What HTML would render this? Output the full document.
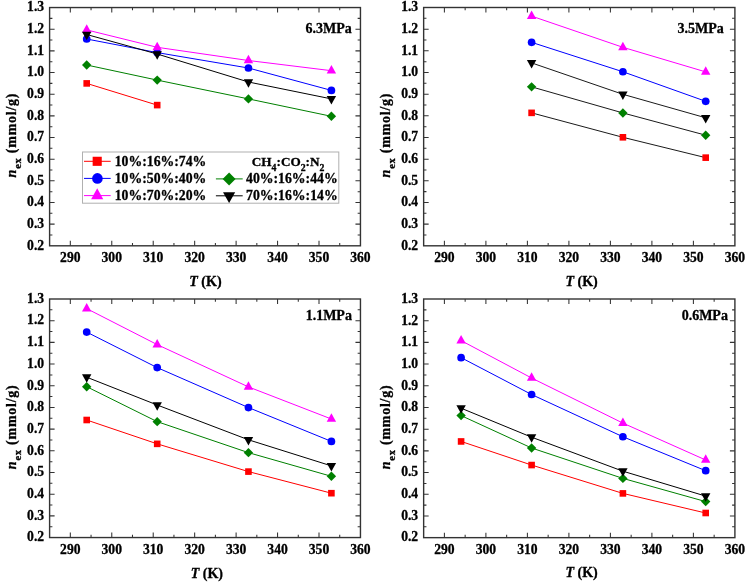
<!DOCTYPE html>
<html><head><meta charset="utf-8"><style>
html,body{margin:0;padding:0;background:#fff;}
body{width:747px;height:583px;overflow:hidden;font-family:"Liberation Serif", serif;}
svg{display:block;filter:blur(0.45px);}
text{stroke:#000;stroke-width:0.3px;}
</style></head><body>
<svg width="747" height="583" viewBox="0 0 747 583" font-family='"Liberation Serif", serif'>
<rect width="747" height="583" fill="#fff"/>
<path d="M70.32 245.80V240.80M70.32 7.55V12.55M91.05 245.80V243.00M91.05 7.55V10.35M111.77 245.80V240.80M111.77 7.55V12.55M132.49 245.80V243.00M132.49 7.55V10.35M153.22 245.80V240.80M153.22 7.55V12.55M173.94 245.80V243.00M173.94 7.55V10.35M194.66 245.80V240.80M194.66 7.55V12.55M215.39 245.80V243.00M215.39 7.55V10.35M236.11 245.80V240.80M236.11 7.55V12.55M256.83 245.80V243.00M256.83 7.55V10.35M277.56 245.80V240.80M277.56 7.55V12.55M298.28 245.80V243.00M298.28 7.55V10.35M319.00 245.80V240.80M319.00 7.55V12.55M339.73 245.80V243.00M339.73 7.55V10.35M49.60 234.97H52.40M360.45 234.97H357.65M49.60 224.14H54.60M360.45 224.14H355.45M49.60 213.31H52.40M360.45 213.31H357.65M49.60 202.48H54.60M360.45 202.48H355.45M49.60 191.65H52.40M360.45 191.65H357.65M49.60 180.82H54.60M360.45 180.82H355.45M49.60 169.99H52.40M360.45 169.99H357.65M49.60 159.16H54.60M360.45 159.16H355.45M49.60 148.33H52.40M360.45 148.33H357.65M49.60 137.50H54.60M360.45 137.50H355.45M49.60 126.67H52.40M360.45 126.67H357.65M49.60 115.85H54.60M360.45 115.85H355.45M49.60 105.02H52.40M360.45 105.02H357.65M49.60 94.19H54.60M360.45 94.19H355.45M49.60 83.36H52.40M360.45 83.36H357.65M49.60 72.53H54.60M360.45 72.53H355.45M49.60 61.70H52.40M360.45 61.70H357.65M49.60 50.87H54.60M360.45 50.87H355.45M49.60 40.04H52.40M360.45 40.04H357.65M49.60 29.21H54.60M360.45 29.21H355.45M49.60 18.38H52.40M360.45 18.38H357.65" stroke="#333" stroke-width="1.05" fill="none"/>
<polyline points="86.70,83.40 157.20,105.10" fill="none" stroke="#ff0000" stroke-width="1"/>
<rect x="83.40" y="80.10" width="6.60" height="6.60" fill="#ff0000"/>
<rect x="153.90" y="101.80" width="6.60" height="6.60" fill="#ff0000"/>
<polyline points="86.70,39.00 157.20,52.60 248.45,68.00 331.40,90.40" fill="none" stroke="#0000ff" stroke-width="1"/>
<circle cx="86.70" cy="39.00" r="3.85" fill="#0000ff"/>
<circle cx="157.20" cy="52.60" r="3.85" fill="#0000ff"/>
<circle cx="248.45" cy="68.00" r="3.85" fill="#0000ff"/>
<circle cx="331.40" cy="90.40" r="3.85" fill="#0000ff"/>
<polyline points="86.70,29.90 157.20,47.30 248.45,60.50 331.40,70.70" fill="none" stroke="#ff00ff" stroke-width="1"/>
<polygon points="86.70,24.23 91.40,32.73 82.00,32.73" fill="#ff00ff"/>
<polygon points="157.20,41.63 161.90,50.13 152.50,50.13" fill="#ff00ff"/>
<polygon points="248.45,54.83 253.15,63.33 243.75,63.33" fill="#ff00ff"/>
<polygon points="331.40,65.03 336.10,73.53 326.70,73.53" fill="#ff00ff"/>
<polyline points="86.70,65.00 157.20,80.10 248.45,98.90 331.40,116.30" fill="none" stroke="#008000" stroke-width="1"/>
<polygon points="86.70,60.30 91.40,65.00 86.70,69.70 82.00,65.00" fill="#008000"/>
<polygon points="157.20,75.40 161.90,80.10 157.20,84.80 152.50,80.10" fill="#008000"/>
<polygon points="248.45,94.20 253.15,98.90 248.45,103.60 243.75,98.90" fill="#008000"/>
<polygon points="331.40,111.60 336.10,116.30 331.40,121.00 326.70,116.30" fill="#008000"/>
<polyline points="86.70,34.50 157.20,54.00 248.45,82.00 331.40,98.90" fill="none" stroke="#000000" stroke-width="1"/>
<polygon points="86.70,40.17 91.40,31.67 82.00,31.67" fill="#000000"/>
<polygon points="157.20,59.67 161.90,51.17 152.50,51.17" fill="#000000"/>
<polygon points="248.45,87.67 253.15,79.17 243.75,79.17" fill="#000000"/>
<polygon points="331.40,104.57 336.10,96.07 326.70,96.07" fill="#000000"/>
<rect x="49.60" y="7.55" width="310.85" height="238.25" fill="none" stroke="#333" stroke-width="1.4"/>
<g font-size="13.6" font-weight="bold" fill="#000"><text x="70.32" y="262.10" text-anchor="middle">290</text><text x="111.77" y="262.10" text-anchor="middle">300</text><text x="153.22" y="262.10" text-anchor="middle">310</text><text x="194.66" y="262.10" text-anchor="middle">320</text><text x="236.11" y="262.10" text-anchor="middle">330</text><text x="277.56" y="262.10" text-anchor="middle">340</text><text x="319.00" y="262.10" text-anchor="middle">350</text><text x="360.45" y="262.10" text-anchor="middle">360</text><text x="44.10" y="249.60" text-anchor="end">0.2</text><text x="44.10" y="227.94" text-anchor="end">0.3</text><text x="44.10" y="206.28" text-anchor="end">0.4</text><text x="44.10" y="184.62" text-anchor="end">0.5</text><text x="44.10" y="162.96" text-anchor="end">0.6</text><text x="44.10" y="141.30" text-anchor="end">0.7</text><text x="44.10" y="119.65" text-anchor="end">0.8</text><text x="44.10" y="97.99" text-anchor="end">0.9</text><text x="44.10" y="76.33" text-anchor="end">1.0</text><text x="44.10" y="54.67" text-anchor="end">1.1</text><text x="44.10" y="33.01" text-anchor="end">1.2</text><text x="44.10" y="11.35" text-anchor="end">1.3</text></g>
<text x="205.45" y="285.80" text-anchor="middle" font-size="14" font-weight="bold"><tspan font-style="italic">T</tspan> (K)</text>
<text transform="translate(15.70,177.40) rotate(-90)" font-size="14" font-weight="bold" letter-spacing="0.75"><tspan font-style="italic">n</tspan><tspan font-size="10.5" dy="5.3">ex</tspan><tspan dy="-5.3"> (mmol/g)</tspan></text>
<text x="351.80" y="32.50" text-anchor="end" font-size="14" font-weight="bold">6.3MPa</text>
<path d="M444.40 245.80V240.80M444.40 7.50V12.50M465.15 245.80V243.00M465.15 7.50V10.30M485.90 245.80V240.80M485.90 7.50V12.50M506.65 245.80V243.00M506.65 7.50V10.30M527.40 245.80V240.80M527.40 7.50V12.50M548.15 245.80V243.00M548.15 7.50V10.30M568.90 245.80V240.80M568.90 7.50V12.50M589.65 245.80V243.00M589.65 7.50V10.30M610.40 245.80V240.80M610.40 7.50V12.50M631.15 245.80V243.00M631.15 7.50V10.30M651.90 245.80V240.80M651.90 7.50V12.50M672.65 245.80V243.00M672.65 7.50V10.30M693.40 245.80V240.80M693.40 7.50V12.50M714.15 245.80V243.00M714.15 7.50V10.30M423.65 234.97H426.45M734.90 234.97H732.10M423.65 224.14H428.65M734.90 224.14H729.90M423.65 213.30H426.45M734.90 213.30H732.10M423.65 202.47H428.65M734.90 202.47H729.90M423.65 191.64H426.45M734.90 191.64H732.10M423.65 180.81H428.65M734.90 180.81H729.90M423.65 169.98H426.45M734.90 169.98H732.10M423.65 159.15H428.65M734.90 159.15H729.90M423.65 148.31H426.45M734.90 148.31H732.10M423.65 137.48H428.65M734.90 137.48H729.90M423.65 126.65H426.45M734.90 126.65H732.10M423.65 115.82H428.65M734.90 115.82H729.90M423.65 104.99H426.45M734.90 104.99H732.10M423.65 94.15H428.65M734.90 94.15H729.90M423.65 83.32H426.45M734.90 83.32H732.10M423.65 72.49H428.65M734.90 72.49H729.90M423.65 61.66H426.45M734.90 61.66H732.10M423.65 50.83H428.65M734.90 50.83H729.90M423.65 40.00H426.45M734.90 40.00H732.10M423.65 29.16H428.65M734.90 29.16H729.90M423.65 18.33H426.45M734.90 18.33H732.10" stroke="#333" stroke-width="1.05" fill="none"/>
<polyline points="531.60,112.85 622.90,137.30 705.70,157.65" fill="none" stroke="#1a1a1a" stroke-width="1"/>
<rect x="528.30" y="109.55" width="6.60" height="6.60" fill="#ff0000"/>
<rect x="619.60" y="134.00" width="6.60" height="6.60" fill="#ff0000"/>
<rect x="702.40" y="154.35" width="6.60" height="6.60" fill="#ff0000"/>
<polyline points="531.60,42.35 622.90,71.75 705.70,101.30" fill="none" stroke="#0000ff" stroke-width="1"/>
<circle cx="531.60" cy="42.35" r="3.85" fill="#0000ff"/>
<circle cx="622.90" cy="71.75" r="3.85" fill="#0000ff"/>
<circle cx="705.70" cy="101.30" r="3.85" fill="#0000ff"/>
<polyline points="531.60,16.10 622.90,47.30 705.70,71.90" fill="none" stroke="#ff00ff" stroke-width="1"/>
<polygon points="531.60,10.43 536.30,18.93 526.90,18.93" fill="#ff00ff"/>
<polygon points="622.90,41.63 627.60,50.13 618.20,50.13" fill="#ff00ff"/>
<polygon points="705.70,66.23 710.40,74.73 701.00,74.73" fill="#ff00ff"/>
<polyline points="531.60,86.85 622.90,112.95 705.70,135.20" fill="none" stroke="#1a1a1a" stroke-width="1"/>
<polygon points="531.60,82.15 536.30,86.85 531.60,91.55 526.90,86.85" fill="#008000"/>
<polygon points="622.90,108.25 627.60,112.95 622.90,117.65 618.20,112.95" fill="#008000"/>
<polygon points="705.70,130.50 710.40,135.20 705.70,139.90 701.00,135.20" fill="#008000"/>
<polyline points="531.60,62.90 622.90,94.30 705.70,117.80" fill="none" stroke="#1a1a1a" stroke-width="1"/>
<polygon points="531.60,68.57 536.30,60.07 526.90,60.07" fill="#000000"/>
<polygon points="622.90,99.97 627.60,91.47 618.20,91.47" fill="#000000"/>
<polygon points="705.70,123.47 710.40,114.97 701.00,114.97" fill="#000000"/>
<rect x="423.65" y="7.50" width="311.25" height="238.30" fill="none" stroke="#333" stroke-width="1.4"/>
<g font-size="13.6" font-weight="bold" fill="#000"><text x="444.40" y="262.10" text-anchor="middle">290</text><text x="485.90" y="262.10" text-anchor="middle">300</text><text x="527.40" y="262.10" text-anchor="middle">310</text><text x="568.90" y="262.10" text-anchor="middle">320</text><text x="610.40" y="262.10" text-anchor="middle">330</text><text x="651.90" y="262.10" text-anchor="middle">340</text><text x="693.40" y="262.10" text-anchor="middle">350</text><text x="734.90" y="262.10" text-anchor="middle">360</text><text x="418.15" y="249.60" text-anchor="end">0.2</text><text x="418.15" y="227.94" text-anchor="end">0.3</text><text x="418.15" y="206.27" text-anchor="end">0.4</text><text x="418.15" y="184.61" text-anchor="end">0.5</text><text x="418.15" y="162.95" text-anchor="end">0.6</text><text x="418.15" y="141.28" text-anchor="end">0.7</text><text x="418.15" y="119.62" text-anchor="end">0.8</text><text x="418.15" y="97.95" text-anchor="end">0.9</text><text x="418.15" y="76.29" text-anchor="end">1.0</text><text x="418.15" y="54.63" text-anchor="end">1.1</text><text x="418.15" y="32.96" text-anchor="end">1.2</text><text x="418.15" y="11.30" text-anchor="end">1.3</text></g>
<text x="581.55" y="285.70" text-anchor="middle" font-size="14" font-weight="bold"><tspan font-style="italic">T</tspan> (K)</text>
<text transform="translate(389.75,177.40) rotate(-90)" font-size="14" font-weight="bold" letter-spacing="0.75"><tspan font-style="italic">n</tspan><tspan font-size="10.5" dy="5.3">ex</tspan><tspan dy="-5.3"> (mmol/g)</tspan></text>
<text x="723.70" y="33.40" text-anchor="end" font-size="14" font-weight="bold">3.5MPa</text>
<path d="M70.32 537.55V532.55M70.32 299.00V304.00M91.05 537.55V534.75M91.05 299.00V301.80M111.77 537.55V532.55M111.77 299.00V304.00M132.49 537.55V534.75M132.49 299.00V301.80M153.22 537.55V532.55M153.22 299.00V304.00M173.94 537.55V534.75M173.94 299.00V301.80M194.66 537.55V532.55M194.66 299.00V304.00M215.39 537.55V534.75M215.39 299.00V301.80M236.11 537.55V532.55M236.11 299.00V304.00M256.83 537.55V534.75M256.83 299.00V301.80M277.56 537.55V532.55M277.56 299.00V304.00M298.28 537.55V534.75M298.28 299.00V301.80M319.00 537.55V532.55M319.00 299.00V304.00M339.73 537.55V534.75M339.73 299.00V301.80M49.60 526.71H52.40M360.45 526.71H357.65M49.60 515.86H54.60M360.45 515.86H355.45M49.60 505.02H52.40M360.45 505.02H357.65M49.60 494.18H54.60M360.45 494.18H355.45M49.60 483.33H52.40M360.45 483.33H357.65M49.60 472.49H54.60M360.45 472.49H355.45M49.60 461.65H52.40M360.45 461.65H357.65M49.60 450.80H54.60M360.45 450.80H355.45M49.60 439.96H52.40M360.45 439.96H357.65M49.60 429.12H54.60M360.45 429.12H355.45M49.60 418.27H52.40M360.45 418.27H357.65M49.60 407.43H54.60M360.45 407.43H355.45M49.60 396.59H52.40M360.45 396.59H357.65M49.60 385.75H54.60M360.45 385.75H355.45M49.60 374.90H52.40M360.45 374.90H357.65M49.60 364.06H54.60M360.45 364.06H355.45M49.60 353.22H52.40M360.45 353.22H357.65M49.60 342.37H54.60M360.45 342.37H355.45M49.60 331.53H52.40M360.45 331.53H357.65M49.60 320.69H54.60M360.45 320.69H355.45M49.60 309.84H52.40M360.45 309.84H357.65" stroke="#333" stroke-width="1.05" fill="none"/>
<polyline points="86.70,420.00 157.20,443.85 248.45,471.60 331.40,493.20" fill="none" stroke="#ff0000" stroke-width="1"/>
<rect x="83.40" y="416.70" width="6.60" height="6.60" fill="#ff0000"/>
<rect x="153.90" y="440.55" width="6.60" height="6.60" fill="#ff0000"/>
<rect x="245.15" y="468.30" width="6.60" height="6.60" fill="#ff0000"/>
<rect x="328.10" y="489.90" width="6.60" height="6.60" fill="#ff0000"/>
<polyline points="86.70,332.10 157.20,367.60 248.45,407.55 331.40,441.40" fill="none" stroke="#0000ff" stroke-width="1"/>
<circle cx="86.70" cy="332.10" r="3.85" fill="#0000ff"/>
<circle cx="157.20" cy="367.60" r="3.85" fill="#0000ff"/>
<circle cx="248.45" cy="407.55" r="3.85" fill="#0000ff"/>
<circle cx="331.40" cy="441.40" r="3.85" fill="#0000ff"/>
<polyline points="86.70,308.60 157.20,344.60 248.45,386.90 331.40,419.00" fill="none" stroke="#ff00ff" stroke-width="1"/>
<polygon points="86.70,302.93 91.40,311.43 82.00,311.43" fill="#ff00ff"/>
<polygon points="157.20,338.93 161.90,347.43 152.50,347.43" fill="#ff00ff"/>
<polygon points="248.45,381.23 253.15,389.73 243.75,389.73" fill="#ff00ff"/>
<polygon points="331.40,413.33 336.10,421.83 326.70,421.83" fill="#ff00ff"/>
<polyline points="86.70,386.70 157.20,421.65 248.45,452.65 331.40,476.30" fill="none" stroke="#008000" stroke-width="1"/>
<polygon points="86.70,382.00 91.40,386.70 86.70,391.40 82.00,386.70" fill="#008000"/>
<polygon points="157.20,416.95 161.90,421.65 157.20,426.35 152.50,421.65" fill="#008000"/>
<polygon points="248.45,447.95 253.15,452.65 248.45,457.35 243.75,452.65" fill="#008000"/>
<polygon points="331.40,471.60 336.10,476.30 331.40,481.00 326.70,476.30" fill="#008000"/>
<polyline points="86.70,377.20 157.20,405.00 248.45,439.80 331.40,465.90" fill="none" stroke="#000000" stroke-width="1"/>
<polygon points="86.70,382.87 91.40,374.37 82.00,374.37" fill="#000000"/>
<polygon points="157.20,410.67 161.90,402.17 152.50,402.17" fill="#000000"/>
<polygon points="248.45,445.47 253.15,436.97 243.75,436.97" fill="#000000"/>
<polygon points="331.40,471.57 336.10,463.07 326.70,463.07" fill="#000000"/>
<rect x="49.60" y="299.00" width="310.85" height="238.55" fill="none" stroke="#333" stroke-width="1.4"/>
<g font-size="13.6" font-weight="bold" fill="#000"><text x="70.32" y="553.85" text-anchor="middle">290</text><text x="111.77" y="553.85" text-anchor="middle">300</text><text x="153.22" y="553.85" text-anchor="middle">310</text><text x="194.66" y="553.85" text-anchor="middle">320</text><text x="236.11" y="553.85" text-anchor="middle">330</text><text x="277.56" y="553.85" text-anchor="middle">340</text><text x="319.00" y="553.85" text-anchor="middle">350</text><text x="360.45" y="553.85" text-anchor="middle">360</text><text x="44.10" y="541.35" text-anchor="end">0.2</text><text x="44.10" y="519.66" text-anchor="end">0.3</text><text x="44.10" y="497.98" text-anchor="end">0.4</text><text x="44.10" y="476.29" text-anchor="end">0.5</text><text x="44.10" y="454.60" text-anchor="end">0.6</text><text x="44.10" y="432.92" text-anchor="end">0.7</text><text x="44.10" y="411.23" text-anchor="end">0.8</text><text x="44.10" y="389.55" text-anchor="end">0.9</text><text x="44.10" y="367.86" text-anchor="end">1.0</text><text x="44.10" y="346.17" text-anchor="end">1.1</text><text x="44.10" y="324.49" text-anchor="end">1.2</text><text x="44.10" y="302.80" text-anchor="end">1.3</text></g>
<text x="206.90" y="577.70" text-anchor="middle" font-size="14" font-weight="bold"><tspan font-style="italic">T</tspan> (K)</text>
<text transform="translate(15.70,469.15) rotate(-90)" font-size="14" font-weight="bold" letter-spacing="0.75"><tspan font-style="italic">n</tspan><tspan font-size="10.5" dy="5.3">ex</tspan><tspan dy="-5.3"> (mmol/g)</tspan></text>
<text x="351.90" y="320.30" text-anchor="end" font-size="14" font-weight="bold">1.1MPa</text>
<path d="M444.40 537.65V532.65M444.40 299.00V304.00M465.15 537.65V534.85M465.15 299.00V301.80M485.90 537.65V532.65M485.90 299.00V304.00M506.65 537.65V534.85M506.65 299.00V301.80M527.40 537.65V532.65M527.40 299.00V304.00M548.15 537.65V534.85M548.15 299.00V301.80M568.90 537.65V532.65M568.90 299.00V304.00M589.65 537.65V534.85M589.65 299.00V301.80M610.40 537.65V532.65M610.40 299.00V304.00M631.15 537.65V534.85M631.15 299.00V301.80M651.90 537.65V532.65M651.90 299.00V304.00M672.65 537.65V534.85M672.65 299.00V301.80M693.40 537.65V532.65M693.40 299.00V304.00M714.15 537.65V534.85M714.15 299.00V301.80M423.65 526.80H426.45M734.90 526.80H732.10M423.65 515.95H428.65M734.90 515.95H729.90M423.65 505.11H426.45M734.90 505.11H732.10M423.65 494.26H428.65M734.90 494.26H729.90M423.65 483.41H426.45M734.90 483.41H732.10M423.65 472.56H428.65M734.90 472.56H729.90M423.65 461.72H426.45M734.90 461.72H732.10M423.65 450.87H428.65M734.90 450.87H729.90M423.65 440.02H426.45M734.90 440.02H732.10M423.65 429.17H428.65M734.90 429.17H729.90M423.65 418.32H426.45M734.90 418.32H732.10M423.65 407.48H428.65M734.90 407.48H729.90M423.65 396.63H426.45M734.90 396.63H732.10M423.65 385.78H428.65M734.90 385.78H729.90M423.65 374.93H426.45M734.90 374.93H732.10M423.65 364.09H428.65M734.90 364.09H729.90M423.65 353.24H426.45M734.90 353.24H732.10M423.65 342.39H428.65M734.90 342.39H729.90M423.65 331.54H426.45M734.90 331.54H732.10M423.65 320.70H428.65M734.90 320.70H729.90M423.65 309.85H426.45M734.90 309.85H732.10" stroke="#333" stroke-width="1.05" fill="none"/>
<polyline points="461.10,441.45 531.60,465.05 622.90,493.40 705.70,513.00" fill="none" stroke="#ff0000" stroke-width="1"/>
<rect x="457.80" y="438.15" width="6.60" height="6.60" fill="#ff0000"/>
<rect x="528.30" y="461.75" width="6.60" height="6.60" fill="#ff0000"/>
<rect x="619.60" y="490.10" width="6.60" height="6.60" fill="#ff0000"/>
<rect x="702.40" y="509.70" width="6.60" height="6.60" fill="#ff0000"/>
<polyline points="461.10,357.65 531.60,394.50 622.90,436.75 705.70,470.70" fill="none" stroke="#0000ff" stroke-width="1"/>
<circle cx="461.10" cy="357.65" r="3.85" fill="#0000ff"/>
<circle cx="531.60" cy="394.50" r="3.85" fill="#0000ff"/>
<circle cx="622.90" cy="436.75" r="3.85" fill="#0000ff"/>
<circle cx="705.70" cy="470.70" r="3.85" fill="#0000ff"/>
<polyline points="461.10,340.60 531.60,378.00 622.90,423.10 705.70,460.00" fill="none" stroke="#ff00ff" stroke-width="1"/>
<polygon points="461.10,334.93 465.80,343.43 456.40,343.43" fill="#ff00ff"/>
<polygon points="531.60,372.33 536.30,380.83 526.90,380.83" fill="#ff00ff"/>
<polygon points="622.90,417.43 627.60,425.93 618.20,425.93" fill="#ff00ff"/>
<polygon points="705.70,454.33 710.40,462.83 701.00,462.83" fill="#ff00ff"/>
<polyline points="461.10,415.60 531.60,448.00 622.90,478.40 705.70,501.60" fill="none" stroke="#008000" stroke-width="1"/>
<polygon points="461.10,410.90 465.80,415.60 461.10,420.30 456.40,415.60" fill="#008000"/>
<polygon points="531.60,443.30 536.30,448.00 531.60,452.70 526.90,448.00" fill="#008000"/>
<polygon points="622.90,473.70 627.60,478.40 622.90,483.10 618.20,478.40" fill="#008000"/>
<polygon points="705.70,496.90 710.40,501.60 705.70,506.30 701.00,501.60" fill="#008000"/>
<polyline points="461.10,408.20 531.60,437.20 622.90,471.20 705.70,496.10" fill="none" stroke="#000000" stroke-width="1"/>
<polygon points="461.10,413.87 465.80,405.37 456.40,405.37" fill="#000000"/>
<polygon points="531.60,442.87 536.30,434.37 526.90,434.37" fill="#000000"/>
<polygon points="622.90,476.87 627.60,468.37 618.20,468.37" fill="#000000"/>
<polygon points="705.70,501.77 710.40,493.27 701.00,493.27" fill="#000000"/>
<rect x="423.65" y="299.00" width="311.25" height="238.65" fill="none" stroke="#333" stroke-width="1.4"/>
<g font-size="13.6" font-weight="bold" fill="#000"><text x="444.40" y="553.95" text-anchor="middle">290</text><text x="485.90" y="553.95" text-anchor="middle">300</text><text x="527.40" y="553.95" text-anchor="middle">310</text><text x="568.90" y="553.95" text-anchor="middle">320</text><text x="610.40" y="553.95" text-anchor="middle">330</text><text x="651.90" y="553.95" text-anchor="middle">340</text><text x="693.40" y="553.95" text-anchor="middle">350</text><text x="734.90" y="553.95" text-anchor="middle">360</text><text x="418.15" y="541.45" text-anchor="end">0.2</text><text x="418.15" y="519.75" text-anchor="end">0.3</text><text x="418.15" y="498.06" text-anchor="end">0.4</text><text x="418.15" y="476.36" text-anchor="end">0.5</text><text x="418.15" y="454.67" text-anchor="end">0.6</text><text x="418.15" y="432.97" text-anchor="end">0.7</text><text x="418.15" y="411.28" text-anchor="end">0.8</text><text x="418.15" y="389.58" text-anchor="end">0.9</text><text x="418.15" y="367.89" text-anchor="end">1.0</text><text x="418.15" y="346.19" text-anchor="end">1.1</text><text x="418.15" y="324.50" text-anchor="end">1.2</text><text x="418.15" y="302.80" text-anchor="end">1.3</text></g>
<text x="581.55" y="577.40" text-anchor="middle" font-size="14" font-weight="bold"><tspan font-style="italic">T</tspan> (K)</text>
<text transform="translate(389.75,469.25) rotate(-90)" font-size="14" font-weight="bold" letter-spacing="0.75"><tspan font-style="italic">n</tspan><tspan font-size="10.5" dy="5.3">ex</tspan><tspan dy="-5.3"> (mmol/g)</tspan></text>
<text x="727.90" y="319.60" text-anchor="end" font-size="14" font-weight="bold">0.6MPa</text>
<rect x="82.5" y="152.0" width="256.3" height="51.2" fill="#fff" stroke="#b0b0b0" stroke-width="1"/>
<line x1="84" y1="161.3" x2="110.7" y2="161.3" stroke="#ff0000" stroke-width="1"/>
<rect x="92.65" y="156.75" width="9.11" height="9.11" fill="#ff0000"/>
<text x="114.7" y="165.60" font-size="13.75" font-weight="bold">10%:16%:74%</text>
<line x1="84" y1="178.4" x2="110.7" y2="178.4" stroke="#0000ff" stroke-width="1"/>
<circle cx="97.40" cy="178.40" r="5.31" fill="#0000ff"/>
<text x="114.7" y="182.70" font-size="13.75" font-weight="bold">10%:50%:40%</text>
<line x1="84" y1="195.6" x2="110.7" y2="195.6" stroke="#ff00ff" stroke-width="1"/>
<polygon points="97.20,188.29 103.26,199.25 91.14,199.25" fill="#ff00ff"/>
<text x="114.7" y="199.90" font-size="13.75" font-weight="bold">10%:70%:20%</text>
<line x1="215.9" y1="178.9" x2="242.7" y2="178.9" stroke="#008000" stroke-width="1"/>
<polygon points="229.10,172.41 235.59,178.90 229.10,185.39 222.61,178.90" fill="#008000"/>
<text x="246.0" y="183.20" font-size="13.75" font-weight="bold">40%:16%:44%</text>
<line x1="215.9" y1="195.8" x2="242.7" y2="195.8" stroke="#000000" stroke-width="1"/>
<polygon points="229.10,203.11 235.16,192.15 223.04,192.15" fill="#000000"/>
<text x="246.0" y="200.10" font-size="13.75" font-weight="bold">70%:16%:14%</text>
<text x="251.8" y="166.4" font-size="13.2" font-weight="bold">CH<tspan font-size="9.8" dy="4.2">4</tspan><tspan dy="-4.2">:CO</tspan><tspan font-size="9.8" dy="4.2">2</tspan><tspan dy="-4.2">:N</tspan><tspan font-size="9.8" dy="4.2">2</tspan></text>
</svg>
</body></html>
